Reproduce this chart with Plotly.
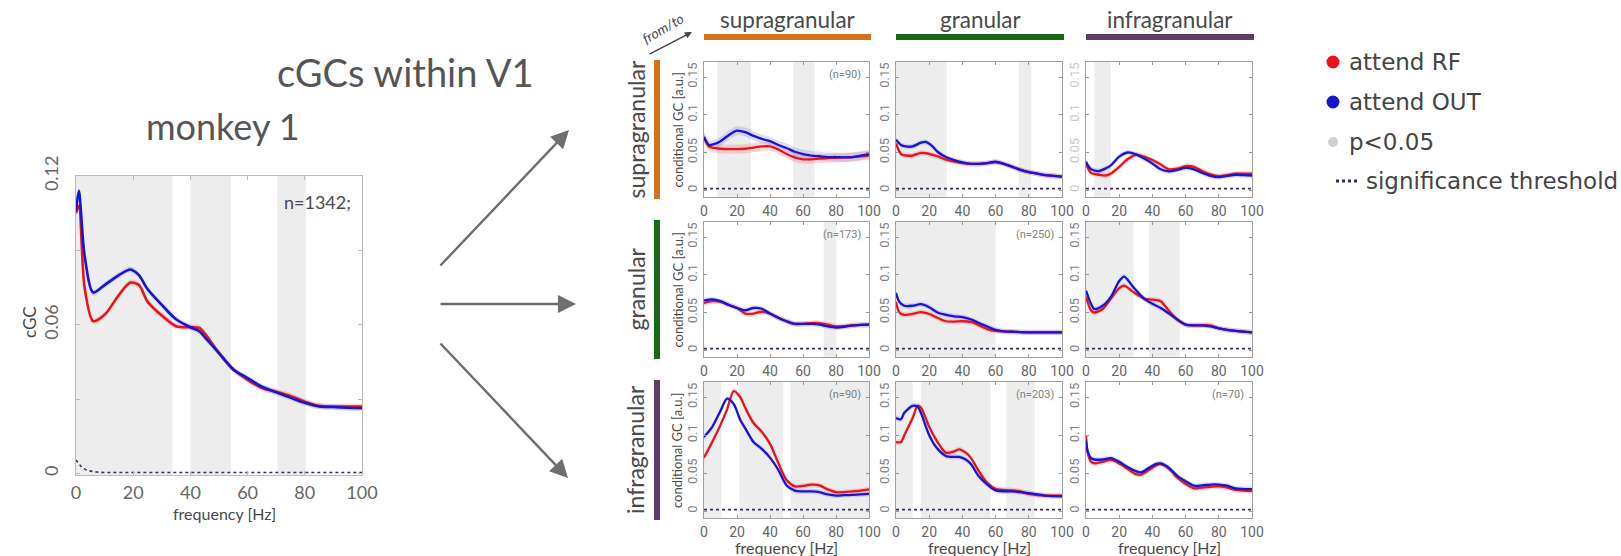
import plotly.graph_objects as go

W, H = 1621, 556

# ---------------- monkey 1: all V1 pairs ----------------
M1_FREQ = [0, 1, 3, 6, 10, 15, 19, 22, 25, 30, 35, 40, 43, 45, 50, 55, 60, 65, 70, 75, 80, 85, 90, 95, 100]
M1_RF = [0.105, 0.108, 0.075, 0.0615, 0.064, 0.072, 0.077, 0.076, 0.0694, 0.0637, 0.0594, 0.059, 0.0588,
         0.0565, 0.0486, 0.042, 0.0378, 0.0345, 0.033, 0.0313, 0.029, 0.0273, 0.027, 0.027, 0.027]
M1_OUT = [0.106, 0.114, 0.088, 0.073, 0.076, 0.080, 0.0823, 0.080, 0.0744, 0.068, 0.0622, 0.059, 0.0575,
          0.055, 0.0486, 0.042, 0.0385, 0.035, 0.0328, 0.0306, 0.0285, 0.027, 0.0268, 0.0265, 0.0263]
M1_THR_FREQ = [0, 1, 2, 4, 7, 10, 100]
M1_THR = [0.0055, 0.004, 0.0025, 0.0012, 0.0006, 0.0004, 0.0004]
M1_SIG_LO = [0, 40, 70.4]
M1_SIG_HI = [33.7, 54.2, 80.4]
M1_N = "n=1342;"

# ---------------- laminar pairs (from row layer -> column layer) ----------------
LAYERS = ["supragranular", "granular", "infragranular"]
LAYER_COLORS = ["#D4711A", "#186818", "#5E3B68"]

GRID_THR_FREQ = [0, 100]
GRID_THR = [0.002, 0.002]

SS_FREQ = [0, 3, 6, 10, 15, 20, 25, 30, 35, 40, 45, 50, 55, 60, 65, 70, 75, 80, 85, 90, 95, 100]
SS_RF = [0.070, 0.058, 0.056, 0.055, 0.0545, 0.0545, 0.055, 0.0565, 0.058, 0.058, 0.054, 0.048, 0.0435,
         0.041, 0.041, 0.042, 0.0425, 0.043, 0.0435, 0.044, 0.045, 0.046]
SS_OUT = [0.071, 0.060, 0.061, 0.065, 0.073, 0.079, 0.077, 0.072, 0.068, 0.065, 0.060, 0.056, 0.051,
          0.048, 0.046, 0.045, 0.044, 0.044, 0.0435, 0.044, 0.046, 0.048]
SS_SIG_LO = [8, 54]
SS_SIG_HI = [28.5, 67]
SS_N = "(n=90)"

SG_FREQ = [0, 3, 6, 10, 15, 18, 22, 25, 30, 35, 40, 45, 50, 55, 60, 65, 70, 75, 80, 85, 90, 95, 100]
SG_RF = [0.062, 0.048, 0.046, 0.046, 0.0495, 0.049, 0.047, 0.045, 0.0405, 0.038, 0.036, 0.035, 0.035,
         0.036, 0.037, 0.035, 0.031, 0.027, 0.024, 0.022, 0.020, 0.019, 0.018]
SG_OUT = [0.067, 0.060, 0.058, 0.058, 0.063, 0.064, 0.058, 0.051, 0.044, 0.040, 0.037, 0.035, 0.035,
          0.036, 0.038, 0.035, 0.031, 0.027, 0.024, 0.022, 0.020, 0.019, 0.018]
SG_SIG_LO = [0, 74]
SG_SIG_HI = [30.5, 81.5]
SG_N = ""

SI_FREQ = [0, 3, 8, 12, 15, 20, 25, 30, 35, 40, 45, 50, 55, 60, 65, 70, 75, 80, 85, 90, 95, 100]
SI_RF = [0.035, 0.023, 0.0205, 0.0195, 0.022, 0.031, 0.041, 0.047, 0.0445, 0.040, 0.034, 0.0277, 0.0286,
         0.032, 0.031, 0.0255, 0.021, 0.0186, 0.020, 0.0218, 0.022, 0.0218]
SI_OUT = [0.0377, 0.028, 0.0255, 0.029, 0.033, 0.0445, 0.050, 0.0477, 0.042, 0.0355, 0.0277, 0.025, 0.027,
          0.0295, 0.0277, 0.023, 0.019, 0.0173, 0.019, 0.0205, 0.020, 0.0195]
SI_SIG_LO = [5]
SI_SIG_HI = [15]
SI_N = ""

GS_FREQ = [0, 5, 10, 15, 20, 25, 30, 35, 40, 45, 50, 55, 60, 65, 70, 75, 80, 85, 90, 95, 100]
GS_RF = [0.0625, 0.065, 0.064, 0.060, 0.056, 0.0486, 0.0486, 0.051, 0.0486, 0.043, 0.0384, 0.035, 0.035,
         0.036, 0.036, 0.034, 0.0315, 0.032, 0.033, 0.0335, 0.034]
GS_OUT = [0.066, 0.0675, 0.065, 0.060, 0.056, 0.053, 0.056, 0.055, 0.0486, 0.043, 0.0384, 0.035, 0.035,
          0.035, 0.034, 0.0315, 0.030, 0.031, 0.033, 0.0335, 0.034]
GS_SIG_LO = [72.5]
GS_SIG_HI = [80.2]
GS_N = "(n=173)"

GG_FREQ = [0, 2, 5, 10, 15, 20, 25, 30, 35, 40, 45, 50, 55, 60, 65, 70, 80, 90, 100]
GG_RF = [0.064, 0.050, 0.047, 0.048, 0.0505, 0.048, 0.043, 0.0384, 0.038, 0.0384, 0.0375, 0.033, 0.028,
         0.0255, 0.025, 0.0245, 0.0236, 0.0236, 0.0236]
GG_OUT = [0.076, 0.064, 0.059, 0.059, 0.061, 0.057, 0.050, 0.047, 0.045, 0.044, 0.041, 0.036, 0.0315,
          0.027, 0.025, 0.0245, 0.0236, 0.0236, 0.0236]
GG_SIG_LO = [0]
GG_SIG_HI = [60]
GG_N = "(n=250)"

GI_FREQ = [0, 3, 5, 10, 15, 20, 23, 28, 35, 40, 45, 50, 55, 60, 65, 70, 75, 80, 90, 100]
GI_RF = [0.0708, 0.053, 0.050, 0.0546, 0.0685, 0.0824, 0.0856, 0.078, 0.0685, 0.067, 0.065, 0.052, 0.0407,
         0.034, 0.033, 0.033, 0.033, 0.029, 0.0255, 0.0236]
GI_OUT = [0.079, 0.0616, 0.0546, 0.059, 0.0708, 0.0917, 0.0977, 0.085, 0.0685, 0.0616, 0.056, 0.0486,
          0.0407, 0.034, 0.033, 0.033, 0.0315, 0.029, 0.0255, 0.0236]
GI_SIG_LO = [0, 38]
GI_SIG_HI = [28.6, 56.5]
GI_N = ""

IS_FREQ = [0, 5, 10, 14, 18, 22, 25, 30, 35, 40, 45, 50, 55, 60, 65, 70, 75, 80, 85, 90, 95, 100]
IS_RF = [0.0705, 0.091, 0.1136, 0.134, 0.158, 0.150, 0.136, 0.116, 0.1045, 0.0886, 0.0636, 0.041, 0.0327,
         0.0332, 0.035, 0.034, 0.0286, 0.025, 0.025, 0.026, 0.027, 0.0286]
IS_OUT = [0.0977, 0.111, 0.132, 0.148, 0.141, 0.120, 0.109, 0.091, 0.082, 0.0705, 0.0545, 0.034, 0.027,
          0.026, 0.026, 0.025, 0.022, 0.0205, 0.021, 0.0214, 0.022, 0.0227]
IS_SIG_LO = [0, 21.5, 52.5]
IS_SIG_HI = [10.5, 48, 100]
IS_N = "(n=90)"

IG_FREQ = [0, 3, 5, 10, 13, 15, 20, 25, 30, 35, 38, 42, 45, 50, 55, 60, 70, 75, 80, 90, 100]
IG_RF = [0.091, 0.091, 0.100, 0.1227, 0.1386, 0.1364, 0.111, 0.091, 0.077, 0.0786, 0.0814, 0.077, 0.0705,
         0.0523, 0.0373, 0.0295, 0.0273, 0.026, 0.0227, 0.0205, 0.0205]
IG_OUT = [0.1227, 0.121, 0.1295, 0.1386, 0.1377, 0.1295, 0.100, 0.082, 0.0727, 0.0714, 0.0714, 0.068,
          0.0623, 0.0455, 0.035, 0.0273, 0.026, 0.025, 0.0236, 0.0205, 0.0195]
IG_SIG_LO = [0, 15, 66.5]
IG_SIG_HI = [10, 57, 83.5]
IG_N = "(n=203)"

II_FREQ = [0, 1, 3, 5, 10, 15, 20, 25, 30, 33, 38, 42, 45, 50, 55, 60, 65, 70, 75, 80, 85, 90, 100]
II_RF = [0.100, 0.077, 0.065, 0.0628, 0.065, 0.0674, 0.0628, 0.0558, 0.0488, 0.048, 0.0544, 0.060, 0.062,
         0.0558, 0.044, 0.0358, 0.030, 0.031, 0.032, 0.0326, 0.031, 0.028, 0.0265]
II_OUT = [0.093, 0.079, 0.0698, 0.068, 0.068, 0.0698, 0.065, 0.058, 0.0526, 0.051, 0.057, 0.062, 0.0628,
          0.057, 0.0465, 0.0395, 0.0335, 0.034, 0.035, 0.035, 0.0335, 0.030, 0.029]
II_SIG_LO = []
II_SIG_HI = []
II_N = "(n=70)"

GRID = [
    [(SS_FREQ, SS_RF, SS_OUT, SS_SIG_LO, SS_SIG_HI, SS_N),
     (SG_FREQ, SG_RF, SG_OUT, SG_SIG_LO, SG_SIG_HI, SG_N),
     (SI_FREQ, SI_RF, SI_OUT, SI_SIG_LO, SI_SIG_HI, SI_N)],
    [(GS_FREQ, GS_RF, GS_OUT, GS_SIG_LO, GS_SIG_HI, GS_N),
     (GG_FREQ, GG_RF, GG_OUT, GG_SIG_LO, GG_SIG_HI, GG_N),
     (GI_FREQ, GI_RF, GI_OUT, GI_SIG_LO, GI_SIG_HI, GI_N)],
    [(IS_FREQ, IS_RF, IS_OUT, IS_SIG_LO, IS_SIG_HI, IS_N),
     (IG_FREQ, IG_RF, IG_OUT, IG_SIG_LO, IG_SIG_HI, IG_N),
     (II_FREQ, II_RF, II_OUT, II_SIG_LO, II_SIG_HI, II_N)],
]

LEGEND_LABELS = ["attend RF", "attend OUT", "p<0.05", "significance threshold"]

# ---------------- styling ----------------
RED = "#E8141C"
BLUE = "#1616D0"
RED_BAND = "rgba(240,80,80,0.22)"
BLUE_BAND = "rgba(90,90,240,0.20)"
SIG_FILL = "#EDEDED"
THR_COLOR = "#3A2A5E"
TEXT = "#4A4A4A"
TICK = "#666666"
FONT = "Lato, Open Sans, sans-serif"
NARROW = "Liberation Sans Narrow, Roboto, sans-serif"

# pixel layout of the panels (left, right, top, bottom)
M1_BOX = (76, 362, 176, 475)
COLS_PX = [(704, 869), (896, 1062), (1086, 1252)]
ROWS_PX = [(62, 197), (222, 357), (382, 518)]
GRID_YRANGE = [-0.009, 0.17]


def fx(p):
    return p / W


def fy(p):
    return 1 - p / H


fig = go.Figure()
shapes = []
annotations = []
layout_axes = {}


def add_series(ax_id, freq, rf, out, err, lw):
    xa, ya = ("x", "y") if ax_id == 1 else (f"x{ax_id}", f"y{ax_id}")
    for vals, band in ((rf, RED_BAND), (out, BLUE_BAND)):
        lo = [v - err for v in vals]
        hi = [v + err for v in vals]
        fig.add_trace(go.Scatter(x=freq, y=lo, mode="lines", line=dict(width=0, shape="spline"),
                                 xaxis=xa, yaxis=ya, showlegend=False, hoverinfo="skip"))
        fig.add_trace(go.Scatter(x=freq, y=hi, mode="lines", line=dict(width=0, shape="spline"),
                                 fill="tonexty", fillcolor=band,
                                 xaxis=xa, yaxis=ya, showlegend=False, hoverinfo="skip"))
    for vals, col in ((rf, RED), (out, BLUE)):
        fig.add_trace(go.Scatter(x=freq, y=vals, mode="lines",
                                 line=dict(color=col, width=lw, shape="spline", smoothing=0.8),
                                 xaxis=xa, yaxis=ya, showlegend=False))


def add_sig_bands(ax_id, lo_list, hi_list):
    xr = "x" if ax_id == 1 else f"x{ax_id}"
    yr = "y domain" if ax_id == 1 else f"y{ax_id} domain"
    for lo, hi in zip(lo_list, hi_list):
        shapes.append(dict(type="rect", xref=xr, yref=yr, x0=lo, x1=hi, y0=0, y1=1,
                           fillcolor=SIG_FILL, line=dict(width=0), layer="below"))


# ---- monkey 1 panel ----
l, r, t, b = M1_BOX
add_sig_bands(1, M1_SIG_LO, M1_SIG_HI)
fig.add_trace(go.Scatter(x=M1_THR_FREQ, y=M1_THR, mode="lines",
                         line=dict(color=THR_COLOR, width=1.6, dash="dot"), showlegend=False))
add_series(1, M1_FREQ, M1_RF, M1_OUT, 0.0012, 2.6)
layout_axes["xaxis"] = dict(domain=[fx(l), fx(r)], range=[0, 100], anchor="y", automargin=False,
                            tickvals=[0, 20, 40, 60, 80, 100], ticks="inside", ticklen=4,
                            tickcolor="#BBBBBB", showline=True, linecolor="#BBBBBB", mirror="ticks",
                            showgrid=False, zeroline=False, ticklabelstandoff=1,
                            tickfont=dict(family=FONT, size=18, color=TICK))
layout_axes["yaxis"] = dict(domain=[fy(b), fy(t)], range=[-0.0006, 0.12], anchor="x", automargin=False,
                            tickvals=[0, 0.03, 0.06, 0.09, 0.12], ticktext=["0", "", "0.06", "", "0.12"],
                            tickangle=-90, ticks="inside", ticklen=4, tickcolor="#BBBBBB",
                            showline=True, linecolor="#BBBBBB", mirror="ticks",
                            showgrid=False, zeroline=False, ticklabelstandoff=10,
                            tickfont=dict(family=FONT, size=18, color=TICK))
annotations += [
    dict(text="cGCs within V1", x=fx(405), y=fy(72), font=dict(family=FONT, size=38, color="#555555")),
    dict(text="monkey 1", x=fx(223), y=fy(126), font=dict(family=FONT, size=36, color="#555555")),
    dict(text="cGC", x=fx(29), y=fy(322), textangle=-90, font=dict(family=FONT, size=17, color=TEXT)),
    dict(text="frequency [Hz]", x=fx(224), y=fy(513), font=dict(family=FONT, size=16, color=TEXT)),
    dict(text=M1_N, x=fx(353), y=fy(202), xanchor="right", font=dict(family=FONT, size=18, color=TEXT)),
]

# ---- laminar grid ----
for ri, row in enumerate(GRID):
    for ci, (freq, rf, out, slo, shi, ntxt) in enumerate(row):
        k = 2 + ri * 3 + ci
        cl, cr = COLS_PX[ci]
        rt, rb = ROWS_PX[ri]
        add_sig_bands(k, slo, shi)
        fig.add_trace(go.Scatter(x=GRID_THR_FREQ, y=GRID_THR, mode="lines",
                                 line=dict(color=THR_COLOR, width=1.8, dash="dot"),
                                 xaxis=f"x{k}", yaxis=f"y{k}", showlegend=False))
        add_series(k, freq, rf, out, 0.0035 if (ri, ci) != (0, 0) else 0.006, 2.3)
        layout_axes[f"xaxis{k}"] = dict(domain=[fx(cl), fx(cr)], range=[0, 100], anchor=f"y{k}",
                                        automargin=False,
                                        tickvals=[0, 20, 40, 60, 80, 100], ticks="inside", ticklen=3,
                                        tickcolor="#999999", showline=True, linecolor="#A0A0A0",
                                        mirror="ticks", showgrid=False, zeroline=False,
                                        ticklabelstandoff=1,
                                        tickfont=dict(family=NARROW, size=14, color=TICK))
        layout_axes[f"yaxis{k}"] = dict(domain=[fy(rb), fy(rt)], range=GRID_YRANGE, anchor=f"x{k}",
                                        automargin=False,
                                        tickvals=[0, 0.05, 0.1, 0.15], ticktext=["0", "0.05", "0.1", "0.15"],
                                        tickangle=-90, ticks="inside", ticklen=3, tickcolor="#999999",
                                        showline=True, linecolor="#A0A0A0", mirror="ticks",
                                        showgrid=False, zeroline=False, ticklabelstandoff=1,
                                        tickfont=dict(family=NARROW, size=13,
                                                      color="#C8C8C8" if (ri, ci) == (0, 2) else "#808080"))
        if ntxt:
            annotations.append(dict(text=ntxt, x=fx(cr - 6), y=fy(rt + 12), xanchor="right",
                                    font=dict(family=NARROW, size=11, color="#808080")))
        if ci == 0:
            annotations.append(dict(text="conditional GC [a.u.]", x=fx(677), y=fy((rt + rb) / 2),
                                    textangle=-90, font=dict(family=FONT, size=13, color=TEXT)))
        if ri == 2:
            annotations.append(dict(text="frequency [Hz]", x=fx((cl + cr) / 2), y=fy(547),
                                    font=dict(family=FONT, size=16, color=TEXT)))

# column headers with colour bars
for ci, name in enumerate(LAYERS):
    cl, cr = COLS_PX[ci]
    annotations.append(dict(text=name, x=fx((cl + cr) / 2 + 1), y=fy(19),
                            font=dict(family=FONT, size=22.5, color=TEXT)))
    shapes.append(dict(type="rect", xref="paper", yref="paper", x0=fx(cl), x1=fx(cr + 2),
                       y0=fy(40), y1=fy(34), fillcolor=LAYER_COLORS[ci], line=dict(width=0)))

# row headers with colour bars
for ri, name in enumerate(LAYERS):
    rt, rb = ROWS_PX[ri]
    annotations.append(dict(text=name, x=fx(635), y=fy((rt + rb) / 2), textangle=-90,
                            font=dict(family=FONT, size=23, color=TEXT)))
    shapes.append(dict(type="rect", xref="paper", yref="paper", x0=fx(654), x1=fx(660),
                       y0=fy(rb + 2), y1=fy(rt - 2), fillcolor=LAYER_COLORS[ri], line=dict(width=0)))

# from/to marker
annotations.append(dict(text="<i>from/to</i>", x=fx(662), y=fy(28), textangle=-30,
                        font=dict(family=FONT, size=14, color=TEXT)))
annotations.append(dict(text="", x=fx(692), y=fy(32), showarrow=True, ax=-44, ay=23,
                        arrowhead=2, arrowsize=1, arrowwidth=1.4, arrowcolor="#444444"))

# arrows linking the summary panel to the laminar grid
for tip, off in (((569, 130), (-130, 137)), ((576, 304), (-137, 0)), ((568, 478), (-129, -136))):
    annotations.append(dict(text="", x=fx(tip[0]), y=fy(tip[1]), showarrow=True, ax=off[0], ay=off[1],
                            arrowhead=2, arrowsize=1.5, arrowwidth=2.4, arrowcolor="#6E6E72"))

# legend
leg_y = [62, 102, 142, 181]
for yy, col, rad in ((leg_y[0], RED, 6.5), (leg_y[1], BLUE, 6.5), (leg_y[2], "#D0D0D0", 5)):
    shapes.append(dict(type="circle", xref="paper", yref="paper", x0=fx(1333 - rad), x1=fx(1333 + rad),
                       y0=fy(yy + rad), y1=fy(yy - rad), fillcolor=col, line=dict(width=0)))
shapes.append(dict(type="line", xref="paper", yref="paper", x0=fx(1336), x1=fx(1359),
                   y0=fy(leg_y[3]), y1=fy(leg_y[3]), line=dict(color=THR_COLOR, width=3, dash="dot")))
for yy, txt, x0 in zip(leg_y, LEGEND_LABELS, (1347, 1347, 1347, 1364)):
    annotations.append(dict(text=txt, x=fx(x0), y=fy(yy), xanchor="left",
                            font=dict(family="DejaVu Sans", size=23, color="#444444")))

for a in annotations:
    a.setdefault("xref", "paper")
    a.setdefault("yref", "paper")
    a.setdefault("showarrow", False)
    if a["showarrow"] is False:
        a.setdefault("xanchor", "center")
        a.setdefault("yanchor", "middle")

fig.update_layout(template="none", width=W, height=H, margin=dict(l=0, r=0, t=0, b=0, pad=0),
                  paper_bgcolor="white", plot_bgcolor="white", showlegend=False,
                  shapes=shapes, annotations=annotations, **layout_axes)

fig.write_html("out.html")
